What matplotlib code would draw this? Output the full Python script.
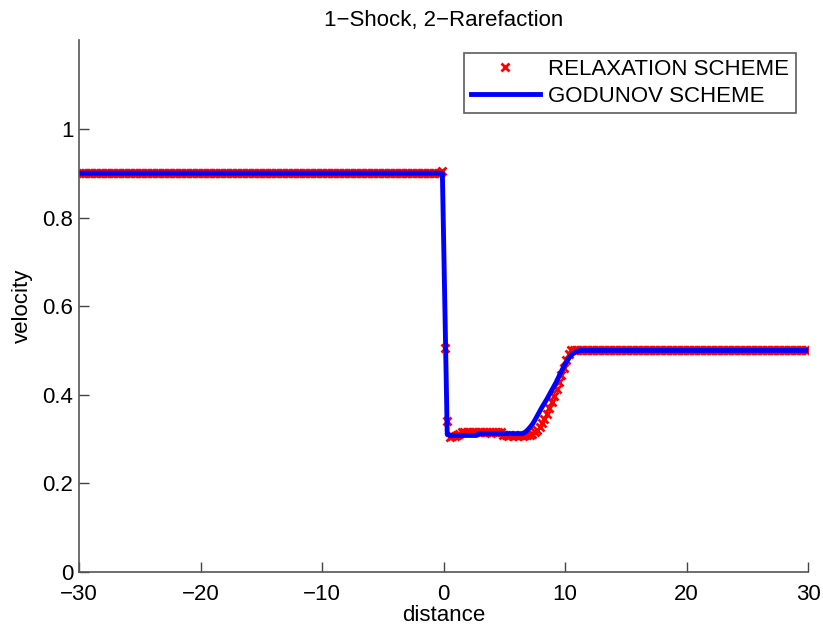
import numpy as np
import matplotlib
matplotlib.use("Agg")
import matplotlib.pyplot as plt

plt.rcParams['font.family'] = ['Liberation Sans', 'DejaVu Sans']

# cell centres of the grid, dx = 0.2 on [-30, 30]
x = np.arange(300) * 0.2 - 29.9

# relaxation scheme
relax_left = [0.9] * 149
relax_shock = [0.905, 0.505, 0.34]
relax_mid = [0.305, 0.307, 0.307, 0.308, 0.311, 0.315, 0.315, 0.316, 0.315, 0.316,
             0.315, 0.316, 0.315, 0.315, 0.316, 0.315, 0.315, 0.314, 0.315, 0.315,
             0.315, 0.315, 0.309, 0.308, 0.307, 0.308, 0.307, 0.308, 0.307, 0.308,
             0.307, 0.308, 0.309]
relax_rare = [0.31, 0.312, 0.316, 0.321, 0.328, 0.336, 0.346, 0.357, 0.37, 0.384,
              0.398, 0.413, 0.428, 0.444, 0.46, 0.478, 0.493, 0.5]
relax_right = [0.5] * 97
relax = relax_left + relax_shock + relax_mid + relax_rare + relax_right

# godunov scheme
god_left = [0.9] * 150
god_shock = [0.6, 0.31]
god_mid = [0.308] * 12 + [0.312] * 19
god_rare = [0.315, 0.32, 0.326, 0.333, 0.342, 0.352, 0.362, 0.372, 0.381, 0.39,
            0.4, 0.41, 0.42, 0.43, 0.442, 0.453, 0.464, 0.474, 0.482, 0.489,
            0.494, 0.497, 0.499, 0.5]
god_right = [0.5] * 93
god = god_left + god_shock + god_mid + god_rare + god_right

fs = 16

fig = plt.figure(figsize=(8.23, 6.26), dpi=100)
ax = fig.add_axes([0.096, 0.0865, 0.886, 0.849])

ax.plot(x, relax, 'x', color='red', markersize=6, markeredgewidth=2,
        label='RELAXATION SCHEME')
ax.plot(x, god, '-', color='blue', linewidth=3.5, label='GODUNOV SCHEME')

ax.set_xlim(-30, 30)
ax.set_ylim(0, 1.2)
ax.set_xticks([-30, -20, -10, 0, 10, 20, 30])
ax.set_yticks([0, 0.2, 0.4, 0.6, 0.8, 1])
ax.set_yticklabels(['0', '0.2', '0.4', '0.6', '0.8', '1'])
ax.set_xticklabels(['\u221230', '\u221220', '\u221210', '0', '10', '20', '30'])
ax.tick_params(direction='in', length=7, labelsize=fs, color='#444444', width=1)
ax.tick_params(axis='x', pad=9)
ax.tick_params(axis='y', pad=4)
for s in ['top', 'right']:
    ax.spines[s].set_visible(False)
for s in ['left', 'bottom']:
    ax.spines[s].set_color('#555555')
    ax.spines[s].set_linewidth(1.2)

ax.set_xlabel('distance', fontsize=fs, labelpad=0)
ax.set_ylabel('velocity', fontsize=fs, labelpad=7)
ax.set_title('1\u2212Shock, 2\u2212Rarefaction', fontsize=fs, pad=10)

leg = ax.legend(loc='upper right', fontsize=fs, frameon=True, fancybox=False,
                edgecolor='#333333', handlelength=3.1, handletextpad=0.4,
                labelspacing=0.25, borderpad=0.3, borderaxespad=0,
                bbox_to_anchor=(0.9835, 0.977))
leg.get_frame().set_linewidth(1.2)

fig.savefig('out.png', dpi=100)
